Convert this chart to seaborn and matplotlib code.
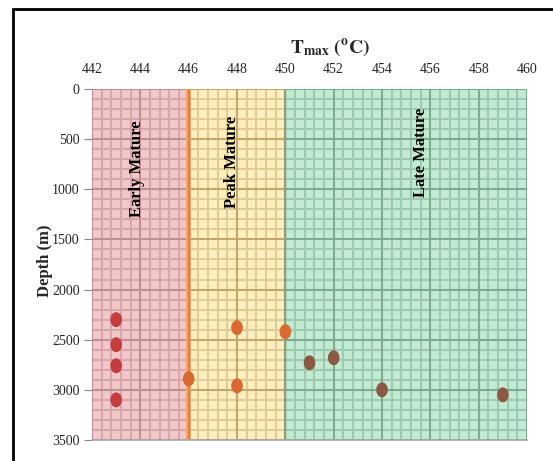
import numpy as np
import pandas as pd
import matplotlib
matplotlib.use("Agg")
import matplotlib.pyplot as plt
from matplotlib.patches import Rectangle
from matplotlib.path import Path
import seaborn as sns

# dados (Tmax em oC, profundidade em m)
tmax = [443, 443, 443, 443, 446, 448, 448, 450, 451, 452, 454, 459]
profundidade = [2300, 2550, 2760, 3100, 2890, 2380, 2960, 2420, 2730, 2680, 3000, 3050]
fase = ['early', 'early', 'early', 'early', 'peak', 'peak', 'peak', 'peak',
        'late', 'late', 'late', 'late']

# faixas de maturacao: inicio, fim, fundo, grade menor, grade maior, rotulo
faixas = [(442, 446, '#f2c8cb', '#d8a7ac', '#bf9095', 'Early Mature', 443.85, 790),
          (446, 450, '#ffeebe', '#e0cc96', '#c2a86c', 'Peak Mature', 447.8, 730),
          (450, 460, '#c3ebd4', '#9dcbb0', '#7dac91', 'Late Mature', 455.6, 630)]
cores_pontos = {'early': '#c43c3c', 'peak': '#d9692f', 'late': '#8c5a44'}

df = pd.DataFrame({'tmax': tmax, 'profundidade': profundidade, 'fase': fase})

sns.set_style("white")
plt.rcParams['font.family'] = ['Liberation Serif', 'DejaVu Serif']
plt.rcParams['mathtext.fontset'] = 'stix'

fig = plt.figure(figsize=(5.53, 4.61), dpi=100)
ax = fig.add_axes([0.1664, 0.0456, 0.7866, 0.7614])

y_menor = np.arange(0, 3501, 100)
for x0, x1, cor, cmenor, cmaior, nome, tx, ty in faixas:
    ax.axvspan(x0, x1, color=cor, zorder=0.1, lw=0)
    xs = np.round(np.arange(x0, x1 + 0.01, 0.4), 1)
    maior_x = np.isclose(xs % 2, 0)
    maior_y = y_menor % 500 == 0
    ax.vlines(xs[~maior_x], 0, 3500, color=cmenor, lw=1.5, zorder=0.3)
    ax.hlines(y_menor[~maior_y], x0, x1, color=cmenor, lw=1.5, zorder=0.3)
    ax.vlines(xs[maior_x], 0, 3500, color=cmaior, lw=1.5, zorder=0.4)
    ax.hlines(y_menor[maior_y], x0, x1, color=cmaior, lw=1.5, zorder=0.4)
    ax.text(tx, ty, nome, rotation=90, ha='center', va='center',
            fontsize=12, fontweight='bold', color='black', zorder=4)

# borda laranja em 446 e linha em 450
ax.axvspan(445.9, 446.1, color='#f2a46a', zorder=0.5, lw=0)
ax.axvline(446, color='#e07a3a', lw=1.2, zorder=0.6)
ax.axvline(450, color='#b08f55', lw=1.0, zorder=0.6)

# marcador eliptico (mais alto que largo)
t = np.linspace(0, 2 * np.pi, 40)
elipse = Path(np.column_stack([np.cos(t) * 0.78, np.sin(t)]), closed=True)

sns.scatterplot(data=df, x='tmax', y='profundidade', hue='fase',
                palette=cores_pontos, s=115, marker=elipse, edgecolor='none',
                legend=False, ax=ax, zorder=3)

ax.set_xlim(442, 460)
ax.set_ylim(3500, 0)
ax.set_xticks(np.arange(442, 461, 2))
ax.set_yticks(np.arange(0, 3501, 500))
ax.grid(False)

ax.xaxis.tick_top()
ax.tick_params(axis='x', which='both', length=0, pad=9, labelsize=10)
ax.tick_params(axis='y', which='major', left=True, length=6, width=0.8,
               color='#888888', pad=3, labelsize=10)
for lado in ['top', 'left', 'right']:
    ax.spines[lado].set_visible(False)
ax.spines['bottom'].set_color('#aaaaaa')
ax.spines['bottom'].set_linewidth(1.2)

ax.set_xlabel('')
ax.set_ylabel('')
fig.text(0.597, 0.897, r'$\mathbf{T_{max}\ (^{o}C)}$', ha='center', va='center',
         fontsize=14)
fig.text(0.082, 0.435, 'Depth (m)', rotation=90, ha='center', va='center',
         fontsize=12, fontweight='bold')

# moldura externa
fig.patches.append(Rectangle((13 / 553, -0.2), 1.5, 1.2 - 9 / 461,
                             transform=fig.transFigure, fill=False,
                             lw=2, ec='black'))

fig.savefig('out.png', dpi=100)
